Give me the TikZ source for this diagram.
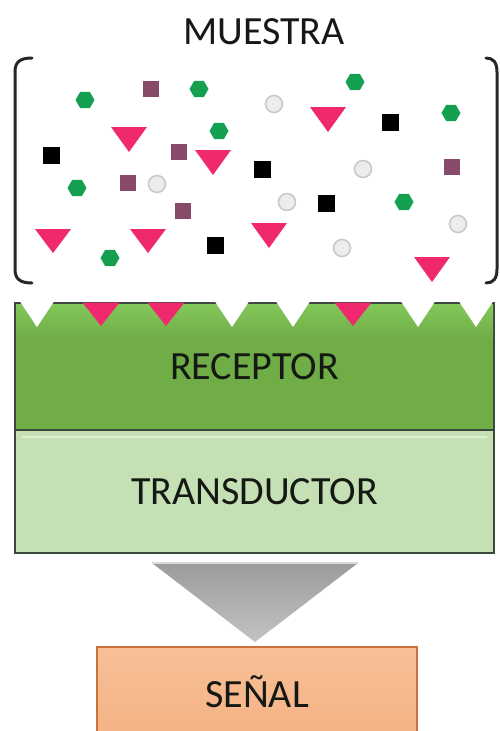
\documentclass[tikz,border=0pt]{standalone}
\usepackage{fontspec}
\setmainfont{Carlito}
\usetikzlibrary{shapes.geometric}
\definecolor{pinkc}{RGB}{240,40,110}
\definecolor{hexg}{RGB}{20,160,80}
\definecolor{plum}{RGB}{135,75,105}
\definecolor{recg}{RGB}{112,173,71}
\definecolor{recl}{RGB}{130,200,90}
\definecolor{trg}{RGB}{197,224,180}
\definecolor{trl}{RGB}{222,240,210}
\definecolor{boxline}{RGB}{60,72,60}
\definecolor{orangef}{RGB}{244,177,131}
\definecolor{orangel}{RGB}{248,192,152}
\definecolor{oranged}{RGB}{200,115,60}
\definecolor{dotf}{RGB}{236,236,236}
\definecolor{dotd}{RGB}{200,200,200}
\definecolor{txt}{RGB}{20,25,20}
\begin{document}
\begin{tikzpicture}[x=1pt,y=-1pt]
\tikzset{
  lbl/.style={font=\fontsize{40}{40}\selectfont, text=txt, text height=26pt, text depth=0pt, inner sep=0pt},
  hexa/.style={regular polygon, regular polygon sides=6, fill=hexg, minimum size=19pt, inner sep=0pt},
  sqp/.style={rectangle, fill=plum, minimum size=16pt, inner sep=0pt},
  sqk/.style={rectangle, fill=black, minimum size=17pt, inner sep=0pt},
  dotg/.style={circle, fill=dotf, draw=dotd, line width=1.5pt, minimum size=17pt, inner sep=0pt},
  brk/.style={line width=3pt, draw=black!85, line cap=round},
  tri/.style={fill=pinkc},
  layerbox/.style={rectangle, draw=boxline, line width=1.2pt, inner sep=0pt, text height=26pt, text depth=0pt, font=\fontsize{40}{40}\selectfont, text=txt},
}
\clip (0,0) rectangle (500,731);
\fill[white] (0,0) rectangle (500,731);

% title
\node[lbl] (muestra) at (264,31) {MUESTRA};

% brackets
\coordinate (lbt) at (32,58);
\coordinate (lbb) at (32,283);
\coordinate (rbt) at (486,58);
\coordinate (rbb) at (486,283);
\draw[brk] (lbt) .. controls (20,58) and (15,62) .. (15,72) -- (15,269) .. controls (15,279) and (20,283) .. (lbb);
\draw[brk] (rbt) .. controls (493,58) and (497,62) .. (497,72) -- (497,269) .. controls (497,279) and (493,283) .. (rbb);

% particles
\foreach \x/\y [count=\i] in {85/100,199/89,219/131,355/82,451/113,77/188,110/258,404/202}
  \node[hexa] (h\i) at (\x,\y) {};
\foreach \x/\y [count=\i] in {151/89,179/152,128/183,183/211,452/167}
  \node[sqp] (p\i) at (\x,\y) {};
\foreach \x/\y [count=\i] in {51/155,390/122,215/245,262/169,326/203}
  \node[sqk] (k\i) at (\x,\y) {};
\foreach \x/\y [count=\i] in {274/104,157/184,363/169,287/202,342/248,458/224}
  \node[dotg] (g\i) at (\x,\y) {};
\foreach \x/\t/\b in {129/127/152,328/107/132,213/150/175,53/229/253,148/229/253,269/223/248,432/257/282}
  \fill[tri] (\x-18,\t) -- (\x+18,\t) -- (\x,\b) -- cycle;

% receptor
\node[layerbox, fill=recg, minimum width=479pt, minimum height=127pt] (receptor) at (254.5,366.5) {};
\shade[top color=recl, bottom color=recg] (16,304) rectangle (493,338);
\draw[boxline, line width=1.2pt] (receptor.north west) -- (receptor.north east);
\node[lbl] (receptortxt) at (receptor.center) {RECEPTOR};
\foreach \x in {37,232,293,418,476}
  \fill[white] (\x-18,300) -- (\x+18,300) -- (\x,327) -- cycle;
\foreach \x in {101,166,353}
  \fill[tri] (\x-18.5,302.5) -- (\x+18.5,302.5) -- (\x,326) -- cycle;

% transductor
\node[layerbox, fill=trg, minimum width=479pt, minimum height=123pt] (transductor) at (254.5,491.5) {TRANSDUCTOR};
\draw[trl, line width=2pt] (22,437) -- (487,437);

% arrow
\coordinate (atl) at (152,563);
\coordinate (atr) at (358,563);
\coordinate (atip) at (255,642);
\shade[top color={rgb,255:red,155;green,155;blue,155}, bottom color={rgb,255:red,195;green,195;blue,195}] (atl) -- (atr) -- (atip) -- cycle;
\draw[gray!30, line width=1.5pt] (atl) -- (atr);

% signal
\node[layerbox, draw=oranged, minimum width=320pt, minimum height=95pt, top color=orangel, bottom color=orangef, shading angle=0] (senal) at (257,694.5) {SEÑAL};
\end{tikzpicture}
\end{document}
